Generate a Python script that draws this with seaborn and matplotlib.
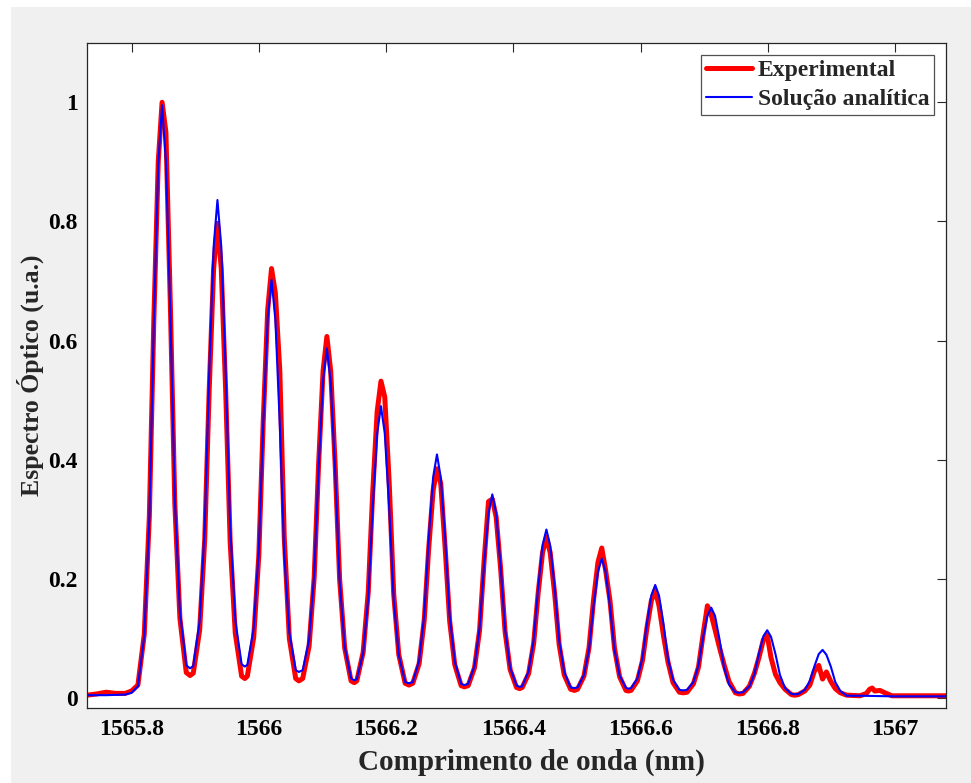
import matplotlib
matplotlib.use("Agg")
import matplotlib.pyplot as plt
from matplotlib.patches import Rectangle
import numpy as np
import pandas as pd
import seaborn as sns

# Resonance peaks of the comb (nm)
peak_nm = [1565.848, 1565.935, 1566.020, 1566.107, 1566.192, 1566.280,
           1566.367, 1566.452, 1566.539, 1566.623, 1566.711, 1566.799, 1566.886]
# Minima between neighbouring peaks (nm)
valley_nm = [1565.892, 1565.978, 1566.063, 1566.150, 1566.236, 1566.323,
             1566.410, 1566.496, 1566.581, 1566.667, 1566.755, 1566.842]
# Wavelength offsets at which each peak is sampled (nm)
offset_nm = [-0.038, -0.028, -0.020, -0.013, -0.006, 0.0,
             0.006, 0.013, 0.020, 0.028, 0.038]

# Measured spectrum: one row per peak, sampled at offset_nm
exp_peaks = [
    [0.022, 0.107, 0.306, 0.633, 0.901, 1.000, 0.950, 0.660, 0.327, 0.134, 0.043],
    [0.042, 0.114, 0.266, 0.516, 0.721, 0.797, 0.721, 0.514, 0.262, 0.109, 0.037],
    [0.037, 0.102, 0.239, 0.466, 0.652, 0.721, 0.680, 0.550, 0.270, 0.100, 0.033],
    [0.033, 0.087, 0.202, 0.393, 0.549, 0.607, 0.549, 0.392, 0.200, 0.084, 0.029],
    [0.029, 0.077, 0.178, 0.345, 0.481, 0.532, 0.505, 0.360, 0.175, 0.073, 0.025],
    [0.025, 0.058, 0.131, 0.251, 0.349, 0.385, 0.360, 0.250, 0.129, 0.056, 0.021],
    [0.021, 0.051, 0.114, 0.229, 0.330, 0.334, 0.304, 0.218, 0.112, 0.048, 0.018],
    [0.018, 0.041, 0.092, 0.176, 0.245, 0.270, 0.244, 0.175, 0.090, 0.039, 0.015],
    [0.015, 0.037, 0.085, 0.164, 0.228, 0.252, 0.215, 0.163, 0.084, 0.036, 0.013],
    [0.013, 0.029, 0.063, 0.118, 0.164, 0.181, 0.155, 0.105, 0.061, 0.026, 0.010],
    [0.010, 0.024, 0.052, 0.105, 0.155, 0.140, 0.115, 0.085, 0.057, 0.028, 0.009],
    [0.008, 0.020, 0.042, 0.068, 0.098, 0.106, 0.068, 0.040, 0.026, 0.015, 0.006],
    [0.006, 0.012, 0.022, 0.045, 0.055, 0.032, 0.044, 0.028, 0.016, 0.009, 0.005],
]
exp_valleys = [0.038, 0.033, 0.029, 0.026, 0.022, 0.019,
               0.016, 0.013, 0.012, 0.009, 0.007, 0.005]
exp_lead_nm = [1565.730, 1565.745, 1565.760, 1565.775, 1565.790, 1565.800]
exp_lead = [0.005, 0.007, 0.010, 0.008, 0.008, 0.012]
exp_tail_nm = [1566.945, 1566.955, 1566.960, 1566.964, 1566.968,
               1566.976, 1566.984, 1566.995, 1567.030, 1567.080]
exp_tail = [0.004, 0.008, 0.015, 0.017, 0.012, 0.013, 0.009, 0.004, 0.004, 0.004]

# Analytical solution: one row per peak, sampled at offset_nm
ana_peaks = [
    [0.020, 0.105, 0.302, 0.629, 0.896, 0.995, 0.901, 0.645, 0.334, 0.145, 0.055],
    [0.054, 0.129, 0.286, 0.545, 0.757, 0.836, 0.758, 0.546, 0.288, 0.131, 0.057],
    [0.056, 0.118, 0.248, 0.462, 0.637, 0.702, 0.636, 0.459, 0.241, 0.110, 0.047],
    [0.047, 0.098, 0.207, 0.386, 0.533, 0.587, 0.531, 0.381, 0.197, 0.086, 0.033],
    [0.032, 0.076, 0.168, 0.320, 0.444, 0.490, 0.444, 0.318, 0.165, 0.072, 0.027],
    [0.027, 0.063, 0.140, 0.267, 0.371, 0.409, 0.370, 0.266, 0.138, 0.061, 0.024],
    [0.024, 0.054, 0.118, 0.224, 0.310, 0.342, 0.310, 0.222, 0.116, 0.051, 0.021],
    [0.020, 0.045, 0.098, 0.185, 0.257, 0.283, 0.256, 0.185, 0.097, 0.044, 0.018],
    [0.018, 0.039, 0.082, 0.154, 0.212, 0.234, 0.212, 0.153, 0.081, 0.038, 0.017],
    [0.017, 0.033, 0.068, 0.126, 0.173, 0.190, 0.172, 0.125, 0.066, 0.031, 0.014],
    [0.014, 0.027, 0.055, 0.101, 0.138, 0.152, 0.138, 0.099, 0.052, 0.023, 0.010],
    [0.010, 0.020, 0.041, 0.075, 0.104, 0.114, 0.103, 0.074, 0.039, 0.017, 0.007],
    [0.007, 0.014, 0.029, 0.053, 0.074, 0.081, 0.073, 0.053, 0.027, 0.012, 0.004],
]
ana_valleys = [0.050, 0.053, 0.044, 0.030, 0.025, 0.022,
               0.019, 0.017, 0.016, 0.013, 0.009, 0.0065]
ana_lead_nm = [1565.730, 1565.760, 1565.790, 1565.800]
ana_lead = [0.005, 0.005, 0.006, 0.009]
ana_tail_nm = [1566.950, 1567.000, 1567.080]
ana_tail = [0.004, 0.003, 0.003]

x_ticks = [1565.8, 1566.0, 1566.2, 1566.4, 1566.6, 1566.8, 1567.0]
x_tick_labels = ["1565.8", "1566", "1566.2", "1566.4", "1566.6", "1566.8", "1567"]
y_ticks = [0, 0.2, 0.4, 0.6, 0.8, 1.0]
y_tick_labels = ["0", "0.2", "0.4", "0.6", "0.8", "1"]

series_names = ["Experimental", "Solução analítica"]


def spectrum(lead_nm, lead, rows, valleys, tail_nm, tail):
    """Assemble wavelength/intensity samples in ascending wavelength order."""
    xs, ys = list(lead_nm), list(lead)
    for k, (c, row) in enumerate(zip(peak_nm, rows)):
        xs += [c + o for o in offset_nm]
        ys += list(row)
        if k < len(valleys):
            xs.append(valley_nm[k])
            ys.append(valleys[k])
    xs += list(tail_nm)
    ys += list(tail)
    return xs, ys


ex, ey = spectrum(exp_lead_nm, exp_lead, exp_peaks, exp_valleys, exp_tail_nm, exp_tail)
ax_, ay_ = spectrum(ana_lead_nm, ana_lead, ana_peaks, ana_valleys, ana_tail_nm, ana_tail)
df = pd.concat([
    pd.DataFrame({"wl": ex, "val": ey, "serie": series_names[0]}),
    pd.DataFrame({"wl": ax_, "val": ay_, "serie": series_names[1]}),
], ignore_index=True)

sns.set_style("white")
plt.rcParams["font.family"] = ["Liberation Serif", "DejaVu Serif"]
plt.rcParams["font.weight"] = "bold"
plt.rcParams["axes.labelweight"] = "bold"

fig = plt.figure(figsize=(9.71, 7.83), dpi=100)
fig.patch.set_facecolor("#f0f0f0")
# white margin along the top and left edges of the window
fig.add_artist(Rectangle((0, 0), 11 / 971, 1, transform=fig.transFigure,
                         facecolor="white", edgecolor="none", zorder=-5))
fig.add_artist(Rectangle((0, 1 - 7 / 783), 1, 7 / 783, transform=fig.transFigure,
                         facecolor="white", edgecolor="none", zorder=-5))

ax = fig.add_axes([87 / 971, 1 - 707.7 / 783, (946 - 87) / 971, (707.7 - 42.7) / 783])
ax.set_facecolor("white")

sns.lineplot(data=df[df.serie == series_names[0]], x="wl", y="val", ax=ax,
             color="#ff0000", linewidth=3.6, estimator=None, sort=False,
             label=series_names[0])
sns.lineplot(data=df[df.serie == series_names[1]], x="wl", y="val", ax=ax,
             color="#0000ff", linewidth=1.5, estimator=None, sort=False,
             label=series_names[1])

ax.set_xlim(1565.73, 1567.08)
ax.set_ylim(-0.016, 1.1)
ax.set_xticks(x_ticks)
ax.set_xticklabels(x_tick_labels)
ax.set_yticks(y_ticks)
ax.set_yticklabels(y_tick_labels)

for s in ax.spines.values():
    s.set_visible(True)
    s.set_color("#262626")
    s.set_linewidth(0.9)
ax.tick_params(axis="both", direction="in", length=6.3, width=0.8,
               top=True, right=True, color="#262626", labelcolor="black",
               labelsize=17)
ax.tick_params(axis="x", pad=8)
ax.tick_params(axis="y", pad=6.5)
for lab in ax.get_xticklabels() + ax.get_yticklabels():
    lab.set_fontweight("bold")

ax.set_xlabel("Comprimento de onda (nm)", fontsize=21, fontweight="bold")
ax.xaxis.set_label_coords(0.517, -0.061)
ax.xaxis.label.set_va("top")
ax.set_ylabel("Espectro Óptico (u.a.)", fontsize=18.5, fontweight="bold", labelpad=3.5)

leg = ax.legend(loc="upper right", bbox_to_anchor=(934 / 971, 1 - 55 / 783),
                bbox_transform=fig.transFigure, borderaxespad=0,
                frameon=True, fancybox=False, shadow=False,
                prop={"family": ["Liberation Serif"], "weight": "bold", "size": 17},
                handlelength=1.95, handletextpad=0.25, borderpad=0.2,
                labelspacing=0.31)
leg.get_frame().set_edgecolor("#262626")
leg.get_frame().set_linewidth(0.9)
leg.get_frame().set_facecolor("white")

fig.savefig("out.png", dpi=100, facecolor=fig.get_facecolor())
